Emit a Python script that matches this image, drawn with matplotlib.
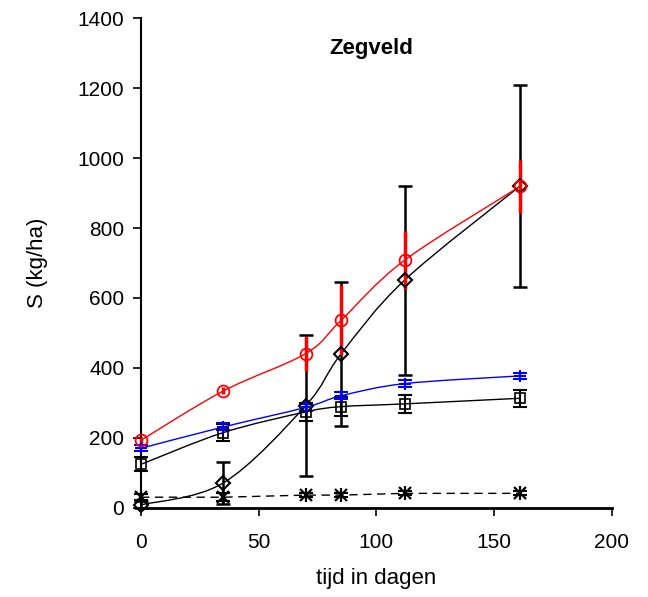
import matplotlib
matplotlib.use("Agg")
import matplotlib.pyplot as plt
from matplotlib.path import Path
from matplotlib.patches import PathPatch
import numpy as np

plt.rcParams['font.family'] = ['Liberation Sans', 'DejaVu Sans']

days = [0, 35, 70, 85, 112, 161]

red_vals = [193, 334, 441, 536, 708, 919]
red_err = [10, 10, 50, 100, 83, 77]

diamond_vals = [8, 71, 292, 440, 651, 920]
diamond_err = [10, 60, 202, 205, 270, 288]

blue_vals = [170, 231, 287, 320, 355, 377]
blue_err = [8, 10, 10, 10, 10, 8]

square_vals = [124, 215, 274, 289, 297, 313]
square_err = [20, 25, 26, 27, 25, 25]

star_vals = [30, 30, 36, 36, 41, 41]
star_err = [8, 12, 6, 6, 6, 6]

x_ticks = [0, 50, 100, 150, 200]
y_ticks = [0, 200, 400, 600, 800, 1000, 1200, 1400]


def smooth_path(xs, ys):
    pts = np.column_stack([xs, ys]).astype(float)
    n = len(pts)
    verts = [pts[0]]
    codes = [Path.MOVETO]
    for i in range(n - 1):
        p0 = pts[i - 1] if i > 0 else pts[i]
        p1 = pts[i]
        p2 = pts[i + 1]
        p3 = pts[i + 2] if i + 2 < n else pts[i + 1]
        c1 = p1 + (p2 - p0) / 6.0
        c2 = p2 - (p3 - p1) / 6.0
        verts += [c1, c2, p2]
        codes += [Path.CURVE4] * 3
    return Path(verts, codes)


fig = plt.figure(figsize=(6.48, 5.97), dpi=100)
ax = fig.add_axes([0.2176, 0.1496, 0.7264, 0.8197])

# smooth lines
for vals, col, z in [(square_vals, 'black', 2), (diamond_vals, 'black', 2),
                     (blue_vals, '#0000ff', 3), (red_vals, '#ff0000', 4)]:
    ax.add_patch(PathPatch(smooth_path(days, vals), facecolor='none',
                           edgecolor=col, lw=1.0, zorder=z))

ax.plot(days, star_vals, color='black', lw=1.0, ls=(0, (6, 4)), zorder=2)

# error bars
ebs = []
ebs.append(ax.errorbar(days, star_vals, yerr=star_err, fmt='none', ecolor='black',
                       elinewidth=1.5, capsize=4.7, capthick=1.5, zorder=5))
ebs.append(ax.errorbar(days, diamond_vals, yerr=diamond_err, fmt='none', ecolor='black',
                       elinewidth=1.8, capsize=4.7, capthick=1.8, zorder=5))
ebs.append(ax.errorbar(days, square_vals, yerr=square_err, fmt='none', ecolor='black',
                       elinewidth=1.5, capsize=4.7, capthick=1.5, zorder=6))
ebs.append(ax.errorbar(days, red_vals, yerr=red_err, fmt='none', ecolor='#ff0000',
                       elinewidth=2.5, capsize=0, zorder=7))
ebs.append(ax.errorbar(days, blue_vals, yerr=blue_err, fmt='none', ecolor='#0000ff',
                       elinewidth=1.5, capsize=4.7, capthick=1.5, zorder=8))
for eb in ebs:
    for art in eb.lines[1]:
        art.set_clip_on(False)
    for art in eb.lines[2]:
        art.set_clip_on(False)

# markers
kw = dict(ls='none', clip_on=False)
ax.plot(days, star_vals, marker='x', ms=9, mec='black', mew=1.6, zorder=9, **kw)
ax.plot(days, star_vals, marker='|', ms=10, mec='black', mew=1.6, zorder=9, **kw)
ax.plot(days, square_vals, marker='s', ms=7.5, mfc='none',
        mec='black', mew=1.2, zorder=9, **kw)
ax.plot(days, diamond_vals, marker='D', ms=7, mfc='none',
        mec='black', mew=1.5, zorder=9, **kw)
ax.plot(days, blue_vals, marker='+', ms=9, mec='#0000ff',
        mew=1.5, zorder=10, **kw)
ax.plot(days, red_vals, marker='o', ms=8.5, mfc='none',
        mec='#ff0000', mew=1.3, zorder=11, **kw)

ax.set_xlim(0, 200)
ax.set_ylim(0, 1400)
ax.set_xticks(x_ticks)
ax.set_yticks(y_ticks)
ax.spines['top'].set_visible(False)
ax.spines['right'].set_visible(False)
ax.spines['left'].set_linewidth(1.5)
ax.spines['bottom'].set_linewidth(2.0)
ax.tick_params(direction='out', length=6, width=1.2, labelsize=15)
ax.tick_params(axis='x', pad=12)
ax.tick_params(axis='y', pad=6)
ax.set_xlabel('tijd in dagen', fontsize=16, labelpad=12)
ax.set_ylabel('S (kg/ha)', fontsize=16, labelpad=21)
ax.text(98, 1313, 'Zegveld', fontsize=16, fontweight='bold', ha='center',
        va='center')

fig.savefig('out.png', dpi=100)
